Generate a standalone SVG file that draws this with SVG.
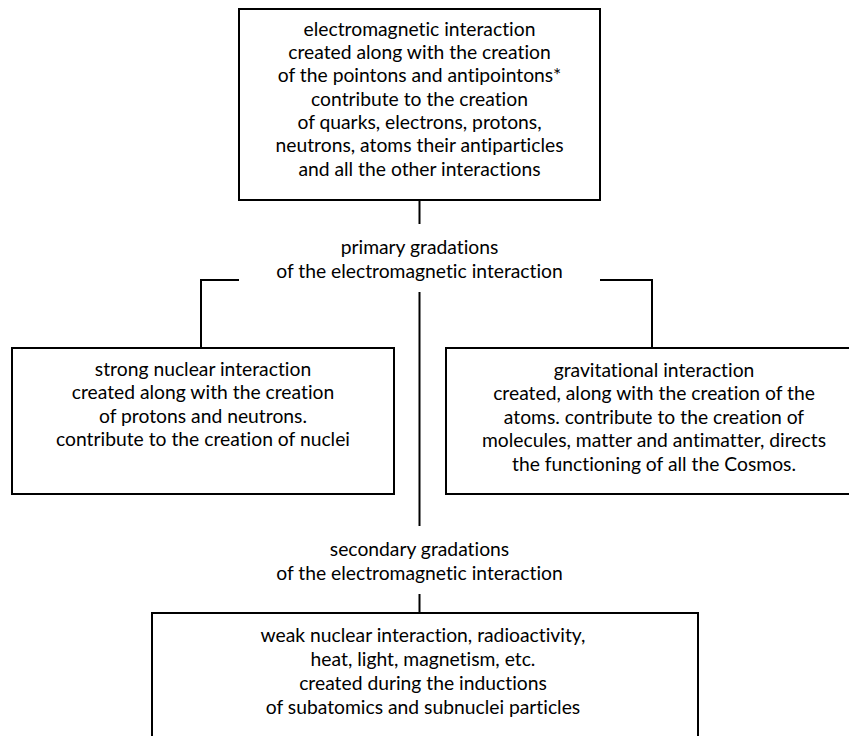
<svg xmlns="http://www.w3.org/2000/svg" width="849" height="736" viewBox="0 0 849 736">
<style>
.box{fill:#fff;stroke:#000;stroke-width:2}
.ln{stroke:#000;stroke-width:2;fill:none}
text{font-family:Lato,"Open Sans","Liberation Sans",sans-serif;font-size:19.3px;fill:#000;text-anchor:middle;font-variant-ligatures:none;font-feature-settings:"liga" 0,"dlig" 0}
</style>
<rect width="849" height="736" fill="#fff"/>
<g id="connectors">
<line class="ln" x1="419.5" y1="200" x2="419.5" y2="224"/>
<polyline class="ln" points="239,280 201,280 201,348"/>
<polyline class="ln" points="600,280 652,280 652,348"/>
<line class="ln" x1="419.5" y1="292" x2="419.5" y2="526"/>
<line class="ln" x1="419.5" y1="594" x2="419.5" y2="613"/>
</g>
<g id="node-em">
<rect class="box" x="239" y="9" width="361" height="191"/>
<text x="419.5" y="35.5">electromagnetic interaction</text>
<text x="419.5" y="58.8">created along with the creation</text>
<text x="419.5" y="82.1">of the pointons and antipointons*</text>
<text x="419.5" y="105.5">contribute to the creation</text>
<text x="419.5" y="128.8">of quarks, electrons, protons,</text>
<text x="419.5" y="152.1">neutrons, atoms their antiparticles</text>
<text x="419.5" y="175.5">and all the other interactions</text>
</g>
<g id="label-primary">
<text x="419.5" y="253.5">primary gradations</text>
<text x="419.5" y="277.5">of the electromagnetic interaction</text>
</g>
<g id="node-strong">
<rect class="box" x="12" y="348" width="382" height="146"/>
<text x="203" y="375.5">strong nuclear interaction</text>
<text x="203" y="399">created along with the creation</text>
<text x="203" y="422.5">of protons and neutrons.</text>
<text x="203" y="446">contribute to the creation of nuclei</text>
</g>
<g id="node-grav">
<rect class="box" x="446" y="348" width="416" height="146"/>
<text x="654" y="376.5">gravitational interaction</text>
<text x="654" y="400">created, along with the creation of the</text>
<text x="654" y="423.5">atoms. contribute to the creation of</text>
<text x="654" y="447">molecules, matter and antimatter, directs</text>
<text x="654" y="470.5">the functioning of all the Cosmos.</text>
</g>
<g id="label-secondary">
<text x="419.5" y="555.5">secondary gradations</text>
<text x="419.5" y="579.5">of the electromagnetic interaction</text>
</g>
<g id="node-weak">
<rect class="box" x="152" y="613" width="546" height="140"/>
<text x="423" y="642">weak nuclear interaction, radioactivity,</text>
<text x="423" y="666">heat, light, magnetism, etc.</text>
<text x="423" y="690">created during the inductions</text>
<text x="423" y="714">of subatomics and subnuclei particles</text>
</g>
</svg>
